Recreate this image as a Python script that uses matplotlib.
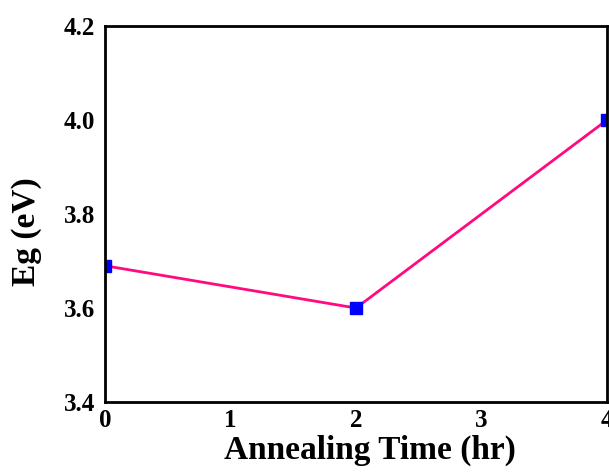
import matplotlib
matplotlib.use('Agg')
import matplotlib.pyplot as plt

# data
anneal_time = [0, 2, 4]
band_gap = [3.69, 3.60, 4.00]
x_ticks = [0, 1, 2, 3, 4]
y_ticks = [3.4, 3.6, 3.8, 4.0, 4.2]

plt.rcParams['font.family'] = ['Liberation Serif', 'DejaVu Serif']
plt.rcParams['font.weight'] = 'bold'

fig = plt.figure(figsize=(6.09, 4.73), dpi=100)
ax = fig.add_axes([0.1724, 0.150, 0.8243, 0.795])

ax.plot(anneal_time, band_gap, color='#FF0A80', linewidth=2.0,
        marker='s', markersize=8, markerfacecolor='#0000FF',
        markeredgecolor='#0000FF', clip_on=True)

ax.set_xlim(0, 4)
ax.set_ylim(3.4, 4.2)
ax.set_xticks(x_ticks)
ax.set_yticks(y_ticks)
ax.set_yticklabels([f'{v:.1f}' for v in y_ticks])
ax.tick_params(length=0, labelsize=18)
ax.tick_params(axis='x', pad=5)
ax.tick_params(axis='y', pad=7)
for lab in ax.get_xticklabels() + ax.get_yticklabels():
    lab.set_fontweight('bold')

for s in ax.spines.values():
    s.set_linewidth(2.0)

ax.set_xlabel('Annealing Time (hr)', fontsize=24, fontweight='bold')
ax.xaxis.set_label_coords(0.528, -0.086)
ax.set_ylabel('Eg (eV)', fontsize=24, fontweight='bold')
ax.yaxis.set_label_coords(-0.125, 0.452)

fig.savefig('out.png', dpi=100)
